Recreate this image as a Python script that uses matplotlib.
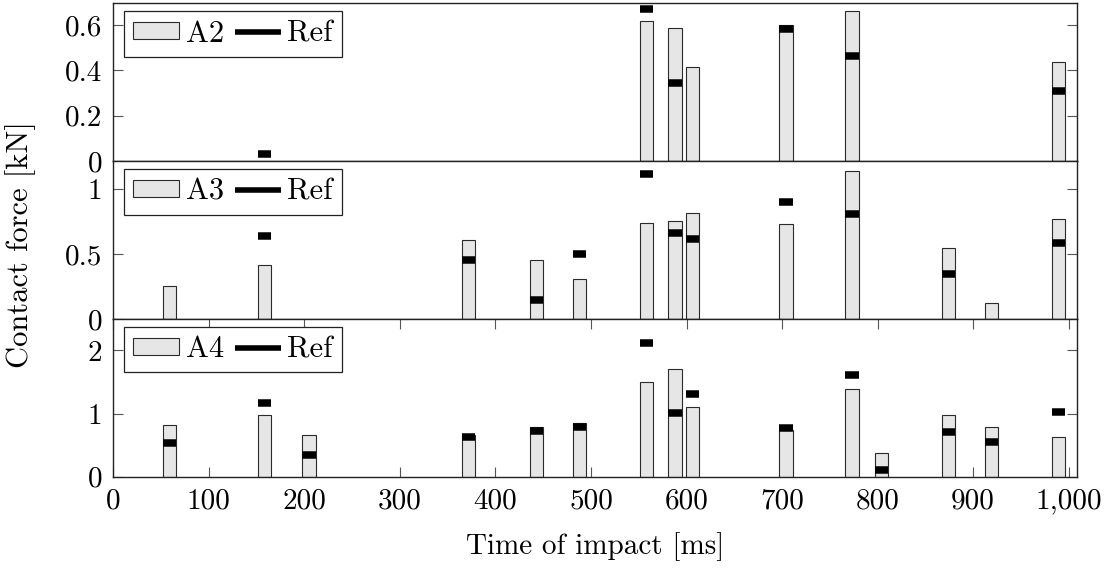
import numpy as np
import matplotlib
matplotlib.use("Agg")
import matplotlib.pyplot as plt
from matplotlib.patches import Patch
from matplotlib.lines import Line2D
from matplotlib.ticker import FuncFormatter, FixedLocator

nan = np.nan
# Times of impact [ms]
times = [59, 158, 205, 372, 443, 488, 558, 588, 606, 704, 773, 804, 874, 919, 989]

# Contact force [kN] per sensor (bars) and reference (black markers)
a2_force = [nan, nan, nan, nan, nan, nan, 0.619, 0.587, 0.413, 0.601, 0.659, nan, nan, nan, 0.435]
a2_ref   = [nan, 0.031, nan, nan, nan, nan, 0.668, 0.344, nan, 0.584, 0.462, nan, nan, nan, 0.309]

a3_force = [0.252, 0.415, nan, 0.608, 0.456, 0.304, 0.735, 0.750, 0.814, 0.732, 1.137, nan, 0.549, 0.124, 0.768]
a3_ref   = [nan, 0.635, nan, 0.455, 0.142, 0.496, 1.116, 0.661, 0.615, 0.901, 0.810, nan, 0.346, nan, 0.586]

a4_force = [0.822, 0.975, 0.653, 0.655, 0.790, 0.843, 1.501, 1.712, 1.106, 0.740, 1.390, 0.374, 0.980, 0.790, 0.622]
a4_ref   = [0.535, 1.162, 0.340, 0.630, 0.725, 0.782, 2.120, 1.009, 1.304, 0.767, 1.604, 0.108, 0.701, 0.545, 1.030]

labels = ["A2", "A3", "A4"]
forces = [a2_force, a3_force, a4_force]
refs = [a2_ref, a3_ref, a4_ref]
ylims = [0.695, 1.215, 2.5]
yticks = [[0, 0.2, 0.4, 0.6], [0, 0.5, 1], [0, 1, 2]]
xticks = [0, 100, 200, 300, 400, 500, 600, 700, 800, 900, 1000]

FS = 21
LFS = 22

plt.rcParams['font.family'] = ['cmr10', 'DejaVu Serif']
plt.rcParams['axes.formatter.use_mathtext'] = True
plt.rcParams['font.size'] = FS

W, H = 1112, 572
fig = plt.figure(figsize=(W / 100, H / 100), dpi=100)
left, right = 113.3 / W, 1077.3 / W
top, bottom = 1 - 3.3 / H, 1 - 476.7 / H
gs = fig.add_gridspec(3, 1, left=left, right=right, top=top, bottom=bottom, hspace=0)

bar_w = 14
bar_fc = '#e6e6e6'
bar_ec = '#2a2a2a'
t = np.array(times, dtype=float)

for i in range(3):
    ax = fig.add_subplot(gs[i])
    ax.set_axisbelow(True)
    f = np.array(forces[i], dtype=float)
    r = np.array(refs[i], dtype=float)
    m = ~np.isnan(f)
    ax.bar(t[m], f[m], width=bar_w, color=bar_fc, edgecolor=bar_ec, linewidth=0.8, zorder=1)
    mr = ~np.isnan(r)
    ax.hlines(r[mr], t[mr] - bar_w / 2, t[mr] + bar_w / 2, colors='black',
              linewidth=5.4, capstyle='butt', zorder=3)
    ax.set_xlim(0, 1009)
    ax.set_ylim(0, ylims[i])
    ax.yaxis.set_major_locator(FixedLocator(yticks[i]))
    ax.yaxis.set_major_formatter(FuncFormatter(lambda v, p: f"{v:g}"))
    ax.tick_params(axis='y', which='both', direction='in', left=True, right=True,
                   length=7, width=0.8, color='#555555', pad=8, labelsize=FS)
    if i < 2:
        ax.tick_params(axis='x', which='both', bottom=False, top=False, labelbottom=False)
    else:
        ax.xaxis.set_major_locator(FixedLocator(xticks))
        ax.xaxis.set_major_formatter(FuncFormatter(lambda v, p: f"{v:,.0f}"))
        ax.tick_params(axis='x', which='both', direction='in', bottom=True, top=True,
                       length=7, width=0.8, color='#555555', pad=8, labelsize=FS)
    for s in ax.spines.values():
        s.set_linewidth(1.0)
        s.set_color('#222222')
    handles = [Patch(facecolor=bar_fc, edgecolor=bar_ec, linewidth=0.8),
               Line2D([0], [0], color='black', linewidth=4, solid_capstyle='butt')]
    leg = ax.legend(handles, [labels[i], "Ref"], ncol=2, loc='upper left',
                    bbox_to_anchor=(0.011, 0.951), borderaxespad=0, fancybox=False,
                    edgecolor='#222222', framealpha=1, handlelength=1.5, handleheight=0.47,
                    handletextpad=0.22, columnspacing=0.36, borderpad=0.3, fontsize=LFS)
    leg.get_frame().set_linewidth(0.9)
    leg.set_zorder(5)

fig.text(21 / W, 1 - 245 / H, "Contact force [kN]", rotation=90, ha='center', va='center', fontsize=22)
fig.text((left + right) / 2, 1 - 547 / H, "Time of impact [ms]", ha='center', va='center', fontsize=FS)

fig.savefig("out.png", dpi=100)
